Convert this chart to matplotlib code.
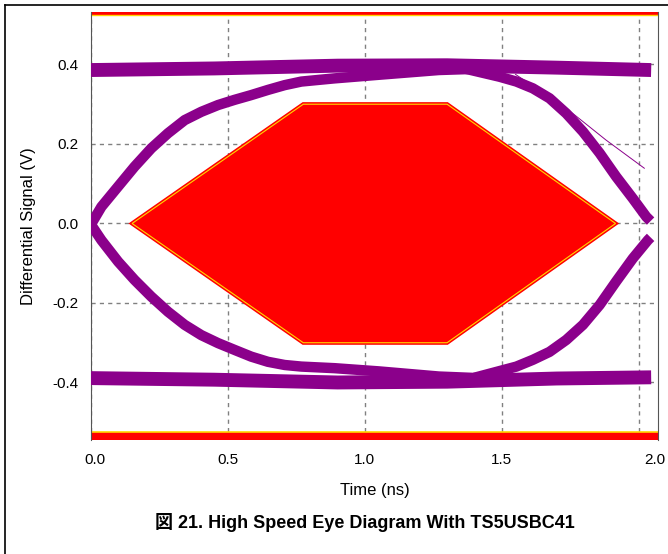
"""Eye diagram with mask: differential signal vs time, TS5USBC41."""

import matplotlib

matplotlib.use("Agg")
import matplotlib.pyplot as plt
from matplotlib.lines import Line2D
from matplotlib.patches import Polygon
from matplotlib.transforms import ScaledTranslation

# --- data ---
# trace bands: centre lines (ns, V)
RAIL_T = [0.0, 0.45, 0.9, 1.3, 1.7, 2.045]
RAIL_HI = [0.386, 0.39, 0.397, 0.398, 0.392, 0.386]
RAIL_LO = [-0.389, -0.393, -0.4, -0.398, -0.39, -0.387]

RISE_L_T = [-0.005, 0.038, 0.099, 0.159, 0.220, 0.281, 0.342, 0.403, 0.464, 0.524,
            0.585, 0.646, 0.707, 0.768, 0.828, 0.889, 1.05, 1.27, 1.45]
RISE_L_V = [-0.008, 0.042, 0.093, 0.143, 0.189, 0.227, 0.260, 0.281, 0.298, 0.311,
            0.323, 0.336, 0.348, 0.357, 0.361, 0.365, 0.374, 0.386, 0.39]
FALL_L_T = [0.001, 0.038, 0.099, 0.159, 0.220, 0.281, 0.342, 0.403, 0.464, 0.524,
            0.585, 0.646, 0.707, 0.768, 0.889, 1.05, 1.27, 1.45]
FALL_L_V = [-0.004, -0.042, -0.096, -0.142, -0.184, -0.222, -0.255, -0.281, -0.301, -0.318,
            -0.335, -0.348, -0.356, -0.360, -0.364, -0.372, -0.385, -0.39]

FALL_R_T = [1.35, 1.492, 1.553, 1.613, 1.674, 1.735, 1.796, 1.857, 1.917, 1.978, 2.027, 2.043]
FALL_R_V = [0.392, 0.369, 0.357, 0.340, 0.315, 0.277, 0.231, 0.177, 0.118, 0.063, 0.017, 0.006]
RISE_R_T = [1.40, 1.553, 1.613, 1.674, 1.735, 1.796, 1.857, 1.917, 1.978, 2.033, 2.043]
RISE_R_V = [-0.388, -0.360, -0.343, -0.323, -0.293, -0.255, -0.205, -0.146, -0.088, -0.042, -0.035]

STRAY_T = [1.55, 1.735, 1.88, 2.02]
STRAY_V = [0.375, 0.29, 0.21, 0.139]

# eye mask hexagon and upper/lower keep-out limits
MASK_T = [0.15, 0.775, 1.30, 1.915, 1.30, 0.775]
MASK_V = [0.0, 0.30, 0.30, 0.0, -0.30, -0.30]
LIMIT_V = 0.525

X_TICKS = [0.0, 0.5, 1.0, 1.5, 2.0]
Y_TICKS = [-0.4, -0.2, 0.0, 0.2, 0.4]

PURPLE = "#8B008B"
RED = "#FF0000"
YELLOW = "#FFD700"
GRID = "#808080"

plt.rcParams.update({
    "font.family": ["Liberation Sans", "Noto Sans CJK JP", "DejaVu Sans"],
    "axes.unicode_minus": False,
})

fig = plt.figure(figsize=(6.68, 5.54), dpi=100)
ax = fig.add_axes([91 / 668, 1 - 440 / 554, (658 - 91) / 668, (440 - 12) / 554])
ax.set_xlim(0, 2.07)
ax.set_ylim(-0.5447, 0.532)

# grid under everything
ax.set_axisbelow(True)
ax.grid(True, color=GRID, linestyle=(0, (3, 3)), linewidth=1)

# keep-out bands top and bottom
ax.axhspan(LIMIT_V, 1, color=RED, lw=0, zorder=2)
ax.axhspan(-1, -LIMIT_V, color=RED, lw=0, zorder=2)
ax.axhline(LIMIT_V, color=YELLOW, lw=1, zorder=2.1)
ax.axhline(-LIMIT_V, color=YELLOW, lw=1.2, zorder=2.1)

# mask
pts = list(zip(MASK_T, MASK_V))
ax.add_patch(Polygon(pts, closed=True, facecolor=RED, edgecolor=RED, lw=3, zorder=2))
ax.add_patch(Polygon(pts, closed=True, fill=False, edgecolor=YELLOW, lw=0.8, zorder=2.1))

# traces
kw = dict(color=PURPLE, solid_capstyle="butt", solid_joinstyle="round", zorder=3)
ax.plot(RAIL_T, RAIL_HI, lw=10, **kw)
ax.plot(RAIL_T, RAIL_LO, lw=10, **kw)
for t, v in ((RISE_L_T, RISE_L_V), (FALL_L_T, FALL_L_V),
             (FALL_R_T, FALL_R_V), (RISE_R_T, RISE_R_V)):
    ax.plot(t, v, lw=7.5, **kw)
ax.plot(STRAY_T, STRAY_V, color=PURPLE, lw=0.7, zorder=3)

ax.set_xticks(X_TICKS)
ax.set_xticklabels([f"{v:.1f}" for v in X_TICKS])
ax.set_yticks(Y_TICKS)
ax.set_yticklabels([f"{v:.1f}" for v in Y_TICKS])
ax.tick_params(length=0, labelsize=11, pad=9, colors="black")

# end labels sit nudged inward/outward as in the original
xlabels = ax.get_xticklabels()
xlabels[0].set_transform(xlabels[0].get_transform() + ScaledTranslation(4 / 100, 0, fig.dpi_scale_trans))
xlabels[-1].set_transform(xlabels[-1].get_transform() + ScaledTranslation(16 / 100, 0, fig.dpi_scale_trans))

for side in ("top", "bottom"):
    ax.spines[side].set_visible(False)
for side in ("left", "right"):
    ax.spines[side].set_color("#555555")

ax.set_xlabel("Time (ns)", fontsize=12, labelpad=12)
ax.set_ylabel("Differential Signal (V)", fontsize=12, labelpad=12)

fig.text(365 / 668, 1 - 522 / 554, "図 21. High Speed Eye Diagram With TS5USBC41",
         ha="center", va="center", fontsize=13, fontweight="bold")

# outer frame (top and left edges)
fig.add_artist(Line2D([5 / 668, 1], [1 - 5 / 554] * 2, color="black", lw=1.2))
fig.add_artist(Line2D([5 / 668] * 2, [0, 1 - 5 / 554], color="black", lw=1.2))

fig.savefig("out.png", dpi=100, facecolor="white")
